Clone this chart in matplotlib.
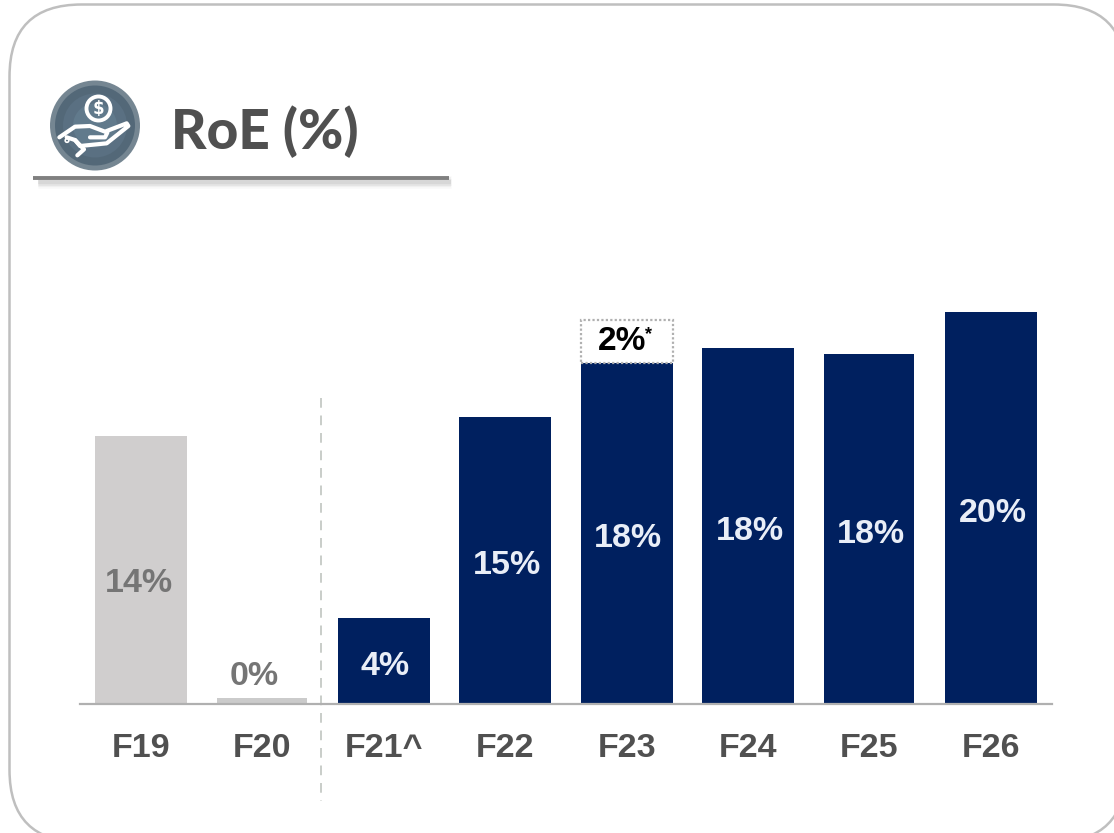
import matplotlib
matplotlib.use("Agg")
import matplotlib.pyplot as plt
from matplotlib.patches import FancyBboxPatch, Circle
import numpy as np

categories = ["F19", "F20", "F21^", "F22", "F23", "F24", "F25", "F26"]
roe_values = [14.0, 0.3, 4.46, 15.0, 17.8, 18.6, 18.3, 20.45]
roe_labels = ["14%", "0%", "4%", "15%", "18%", "18%", "18%", "20%"]
extra_category = "F23"
extra_value = 2.25
extra_label = "2%"
title = "RoE (%)"

W, H = 1114, 833
NAVY = "#00205f"
GREY = "#d0cece"
plt.rcParams["font.family"] = ["Liberation Sans", "DejaVu Sans"]

fig = plt.figure(figsize=(W / 100, H / 100), dpi=100, facecolor="white")

# pixel-space overlay for decoration
bg = fig.add_axes([0, 0, 1, 1], zorder=0)
bg.set_xlim(0, W)
bg.set_ylim(H, 0)
bg.axis("off")
bg.add_patch(FancyBboxPatch((9.5 + 72, 4.5 + 72), 1126 - 9.5 - 144, 842 - 4.5 - 144,
                            boxstyle="round,pad=72,rounding_size=72",
                            fc="white", ec="#bfbfbf", lw=1.8))

# title rule with soft shadow
for dy, lw, a in [(5, 9, 0.05), (5, 7, 0.07), (5, 5, 0.09), (5, 3, 0.12)]:
    bg.plot([38, 451], [177 + dy, 177 + dy], color="#808080", lw=lw, alpha=a,
            solid_capstyle="butt")
bg.plot([33, 449], [177.5, 177.5], color="#808080", lw=2.8, solid_capstyle="butt")
bg.text(171, 132, title, fontsize=39.5, fontweight=900, color="#505050",
        family=["Lato", "DejaVu Sans"], va="center", ha="left")

# icon
bg.add_patch(Circle((95, 125.5), 45, fc="#758692", ec="none"))
for r, c in [(40, "#536878"), (32, "#5a7082"), (22, "#617a8c")]:
    bg.add_patch(Circle((95, 125.5), r, fc=c, ec="none"))
ix, iy = 20, 60
def hand(pts, lw=3.0):
    p = np.array(pts, float) / 3 + [ix, iy]
    bg.plot(p[:, 0], p[:, 1], color="white", lw=lw, solid_capstyle="round",
            solid_joinstyle="round")
bg.add_patch(Circle((98.5, 108.5), 12, fc="none", ec="white", lw=2.8))
bg.text(98.5, 108.5, "$", color="white", fontsize=12, fontweight="bold",
        ha="center", va="center", family=["DejaVu Sans"], parse_math=False)
hand([(118, 232), (165, 200), (210, 198), (255, 215), (320, 190), (325, 198),
      (260, 250), (180, 258), (165, 240), (140, 232)])
hand([(210, 232), (255, 232), (262, 218)])
hand([(165, 240), (192, 268), (172, 286)])
bg.add_patch(Circle((67, 140.5), 1.8, fc="none", ec="white", lw=1.2))

# chart axes: x spans 80..1052 px, baseline at 703.5 px, about 19.1 px per percent
ax = fig.add_axes([80 / W, (H - 703.5) / H, 972 / W, 403 / H], zorder=1)
ax.patch.set_alpha(0)
x = np.arange(len(categories))
ax.set_xlim(-0.5025, 7.504)
ax.set_ylim(0, 403 / 19.12)
colors = [GREY, "#cbcbcb"] + [NAVY] * 6
widths = [0.757, 0.74] + [0.757] * 4 + [0.74, 0.757]
ax.bar(x, roe_values, width=widths, color=colors, linewidth=0)

i23 = categories.index(extra_category)
ax.bar(x[i23], extra_value, bottom=roe_values[i23], width=0.757, fc="white",
       ec="#b0b0b0", lw=1.6, ls=(0, (1, 1)), zorder=3)
ax.annotate(extra_label, (x[i23], roe_values[i23] + extra_value / 2),
            xytext=(-3.5, 0), textcoords="offset points", ha="center", va="center",
            fontsize=24, fontweight="bold", color="black", zorder=4)
ax.annotate("*", (x[i23], roe_values[i23] + extra_value / 2),
            xytext=(16, 5), textcoords="offset points", ha="center", va="center",
            fontsize=13, fontweight="bold", color="black", zorder=4)

for i, (v, lab) in enumerate(zip(roe_values, roe_labels)):
    if i == 0:
        yy, dx, off, col = v / 2, -1.5, -10, "#757575"
    elif i == 1:
        yy, dx, off, col = v, -6, 15.5, "#757575"
    else:
        yy, dx, off, col = v / 2, 1.2, -4, "#e9eef7"
    ax.annotate(lab, (i, yy), xytext=(dx, off), textcoords="offset points",
                ha="center", va="center", fontsize=24.5, fontweight="bold", color=col)

for s in ["top", "right", "left"]:
    ax.spines[s].set_visible(False)
ax.spines["bottom"].set_color("#b0b0b0")
ax.spines["bottom"].set_linewidth(1.6)
ax.set_yticks([])
ax.set_xticks(x, categories, fontsize=24.5, fontweight="bold", color="#505050")
ax.tick_params(axis="x", length=0, pad=21)

# separator between historical and current periods
bg.plot([321, 321], [398, 801], color="#c9cdc9", lw=1.4, ls=(0, (5, 4)), zorder=2)

fig.savefig("out.png", dpi=100)
